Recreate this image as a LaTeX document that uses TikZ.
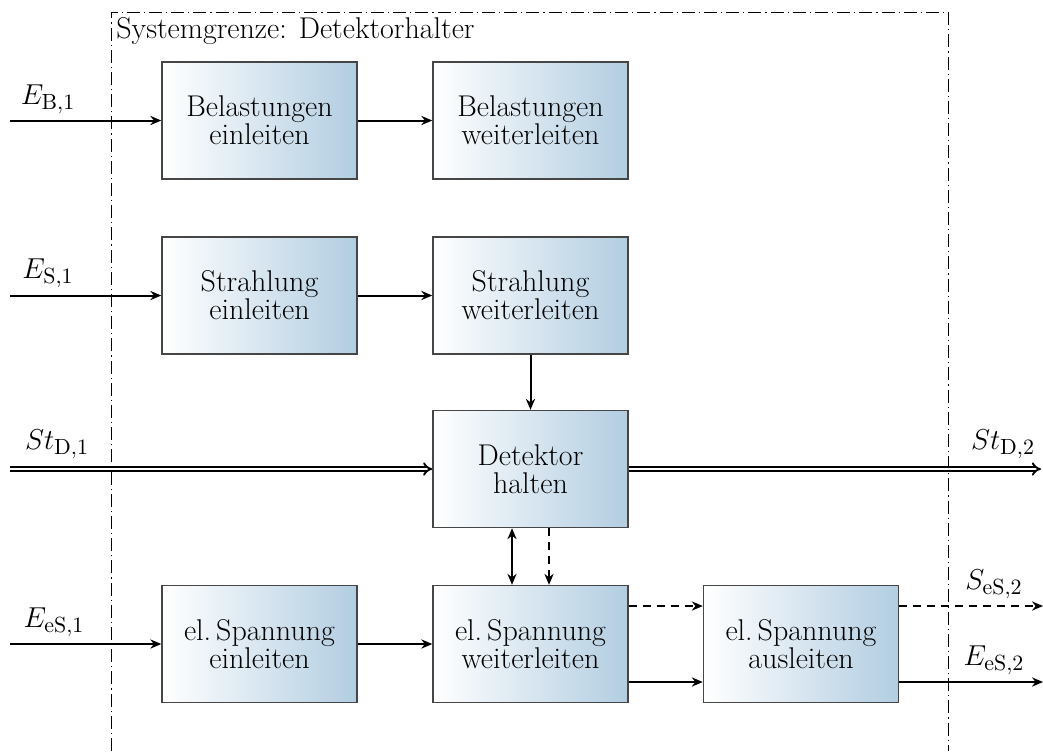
\documentclass[tikz,border=0pt]{standalone}
\usetikzlibrary{arrows.meta}
\definecolor{boxblue}{RGB}{178,205,225}
\definecolor{boxline}{RGB}{70,70,70}
\begin{document}
\begin{tikzpicture}[x=0.5pt,y=-0.5pt,
  >={Stealth[length=5.5pt,width=4.6pt,inset=1.8pt]},
  fn/.style={draw=boxline, line width=0.7pt, left color=white, right color=boxblue,
    minimum width=97.5pt, minimum height=58.5pt, inner sep=0pt, align=center,
    font=\fontsize{15}{14}\selectfont},
  flow/.style={line width=1pt, ->},
  sig/.style={flow, dash pattern=on 4pt off 3pt},
  mat/.style={line width=0.95pt, double, double distance=1.2pt, -{Implies}},
  lbl/.style={inner sep=0pt, font=\fontsize{15}{14}\selectfont},
  border/.style={line width=0.5pt, dash pattern=on 6.5pt off 2pt on 0.6pt off 2pt}]
\useasboundingbox (0,0) rectangle (1043,751);

% system boundary
\coordinate (bl) at (111,751);
\coordinate (tl) at (111,12);
\coordinate (tr) at (948,12);
\coordinate (br) at (948,751);
\draw[border] (bl) -- (tl) -- (tr) -- (br);
\node[lbl, anchor=north west] (sysname) at (116,17) {Systemgrenze: Detektorhalter};

% functions
\node[fn] (be) at (259.5,120.5) {Belastungen\\einleiten};
\node[fn] (bw) at (530.5,120.5) {Belastungen\\weiterleiten};
\node[fn] (se) at (259.5,295.5) {Strahlung\\einleiten};
\node[fn] (sw) at (530.5,295.5) {Strahlung\\weiterleiten};
\node[fn] (dh) at (530.5,469) {Detektor\\halten};
\node[fn] (ee) at (259.5,644) {el.\,Spannung\\einleiten};
\node[fn] (ew) at (530.5,644) {el.\,Spannung\\weiterleiten};
\node[fn] (ea) at (801,644) {el.\,Spannung\\ausleiten};

% free ends
\coordinate (inB) at (10,120.5);
\coordinate (inS) at (10,295.5);
\coordinate (inD) at (10,469);
\coordinate (outD) at (1041,469);
\coordinate (inE) at (10,644);
\coordinate (outS) at (1043,606);
\coordinate (outE) at (1043,682);

% flows
\draw[flow] (inB) -- (be);
\draw[flow] (be) -- (bw);
\draw[flow] (inS) -- (se);
\draw[flow] (se) -- (sw);
\draw[flow] (sw) -- (dh);
\draw[mat] (inD) -- (dh);
\draw[mat] (dh) -- (outD);
\draw[flow] (inE) -- (ee);
\draw[flow] (ee) -- (ew);
\draw[flow, <->] (dh.south -| 512,0) -- (ew.north -| 512,0);
\draw[sig] (dh.south -| 549,0) -- (ew.north -| 549,0);
\draw[sig] (ew.east |- 0,606) -- (ea.west |- 0,606);
\draw[flow] (ew.east |- 0,682) -- (ea.west |- 0,682);
\draw[sig] (ea.east |- 0,606) -- (outS);
\draw[flow] (ea.east |- 0,682) -- (outE);

% flow labels
\node[lbl] (lB) at (48,99) {$E_{\mathrm{B},1}$};
\node[lbl] (lS) at (48,273) {$E_{\mathrm{S},1}$};
\node[lbl] (lD1) at (57,444) {$St_{\mathrm{D},1}$};
\node[lbl] (lD2) at (1003,444) {$St_{\mathrm{D},2}$};
\node[lbl] (lE1) at (54,622) {$E_{\mathrm{eS},1}$};
\node[lbl] (lS2) at (994,584) {$S_{\mathrm{eS},2}$};
\node[lbl] (lE2) at (994,660) {$E_{\mathrm{eS},2}$};
\end{tikzpicture}
\end{document}
